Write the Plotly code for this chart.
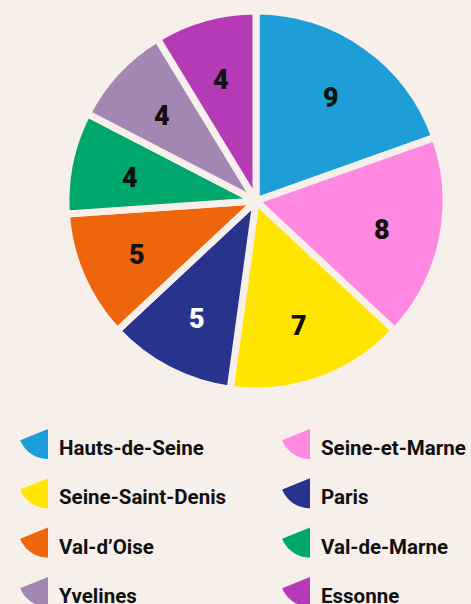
import numpy as np
import plotly.graph_objects as go

departements = ["Hauts-de-Seine", "Seine-et-Marne", "Seine-Saint-Denis", "Paris",
                "Val-d’Oise", "Val-de-Marne", "Yvelines", "Essonne"]
valeurs = [9, 8, 7, 5, 5, 4, 4, 4]
couleurs = ["#1e9ed8", "#ff88e0", "#ffe500", "#27338c",
            "#ed660b", "#00a76c", "#a387b3", "#b53ab5"]
couleurs_texte = ["#111111", "#111111", "#111111", "#ffffff",
                  "#111111", "#111111", "#111111", "#111111"]

W, H = 471, 604
BG = "#f7efea"
CX, CY, R = 256, 201, 190  # pie geometry in px

fig = go.Figure()
fig.add_trace(go.Pie(
    labels=departements, values=valeurs, sort=False, direction="clockwise",
    rotation=0, textinfo="none", hoverinfo="label+value",
    marker=dict(colors=couleurs, line=dict(color=BG, width=7)),
    domain=dict(x=[(CX - R) / W, (CX + R) / W], y=[1 - (CY + R) / H, 1 - (CY - R) / H]),
    showlegend=False,
))

def px(x, y):
    return x / W, 1 - y / H

annotations = []
total = sum(valeurs)
cum = 0
for v, tc in zip(valeurs, couleurs_texte):
    mid = (cum + v / 2) / total * 2 * np.pi
    cum += v
    rr = 0.68 * R
    x = CX + rr * np.sin(mid)
    y = CY - rr * np.cos(mid) + 3
    ax, ay = px(x, y)
    annotations.append(dict(x=ax, y=ay, xref="paper", yref="paper", text=str(v),
                            showarrow=False, xanchor="center", yanchor="middle",
                            font=dict(family="Roboto", size=27, color=tc, weight=900)))

shapes = []
row_y0 = 429
row_step = 49.3
cols = [(18, 57), (280, 319)]
for i, (name, col) in enumerate(zip(departements, couleurs)):
    r, c = divmod(i, 2)
    ix, tx = cols[c]
    top = row_y0 + r * row_step
    # sector icon centred at top-right corner
    ccx, ccy, rad = ix + 30, top, 30
    angs = np.linspace(np.pi / 2, np.radians(158), 20)
    pts = [(ccx, ccy)] + [(ccx + rad * np.cos(a), ccy + rad * np.sin(a)) for a in angs]
    path = "M " + " L ".join(f"{px(x, y)[0]:.5f},{px(x, y)[1]:.5f}" for x, y in pts) + " Z"
    shapes.append(dict(type="path", path=path, xref="paper", yref="paper",
                       fillcolor=col, line=dict(width=0)))
    lx, ly = px(tx, top + 19)
    annotations.append(dict(x=lx, y=ly, xref="paper", yref="paper", text=name,
                            showarrow=False, xanchor="left", yanchor="middle",
                            font=dict(family="Roboto", size=20.5, color="#111111", weight=700)))

fig.update_layout(
    width=W, height=H, margin=dict(l=0, r=0, t=0, b=0),
    paper_bgcolor=BG, plot_bgcolor=BG,
    annotations=annotations, shapes=shapes,
)
fig.write_html("out.html", config={"displayModeBar": False},
               post_script="document.body.style.margin='0';document.body.style.background='" + BG + "';")
